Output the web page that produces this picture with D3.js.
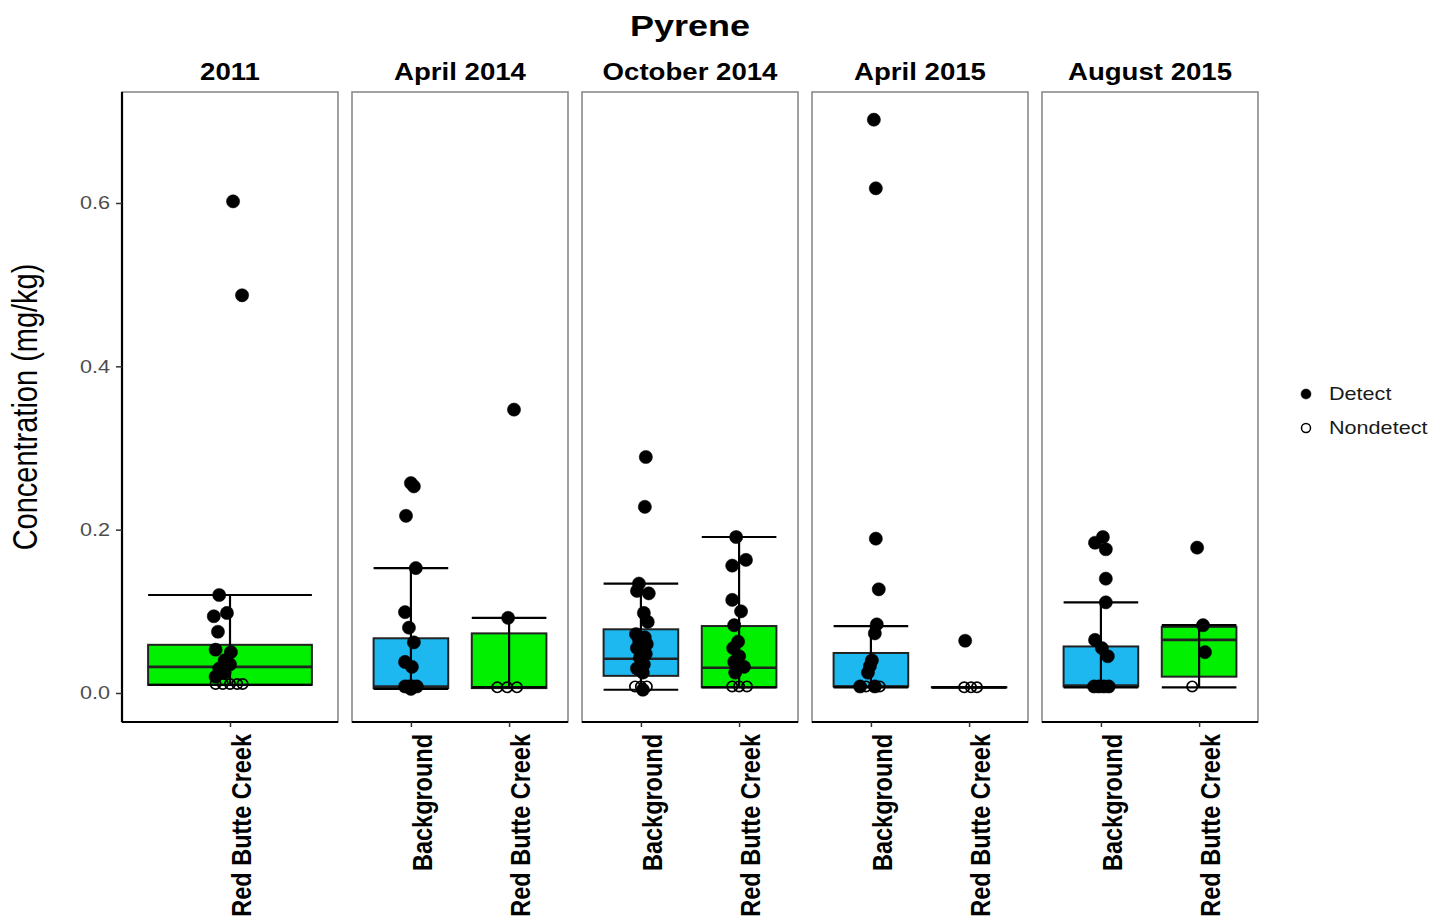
<!DOCTYPE html>
<html><head><meta charset="utf-8">
<script src="https://cdnjs.cloudflare.com/ajax/libs/d3/7.8.5/d3.min.js"></script>
<style>body{margin:0;background:#fff}svg{display:block;font-family:"Liberation Sans",Arial,sans-serif}</style>
</head><body>
<script>
// ---------- data ----------
const title = "Pyrene";
const yLabel = "Concentration (mg/kg)";
const facets = ["2011", "April 2014", "October 2014", "April 2015", "August 2015"];
const facetSites = [["Red Butte Creek"], ["Background", "Red Butte Creek"], ["Background", "Red Butte Creek"], ["Background", "Red Butte Creek"], ["Background", "Red Butte Creek"]];
const yTicks = [0, 0.2, 0.4, 0.6];
const legendLabels = ["Detect", "Nondetect"];

// box statistics (one entry per facet/site group)
const boxFacet  = ["2011", "April 2014", "April 2014", "October 2014", "October 2014", "April 2015", "April 2015", "August 2015", "August 2015"];
const boxSite   = ["Red Butte Creek", "Background", "Red Butte Creek", "Background", "Red Butte Creek", "Background", "Red Butte Creek", "Background", "Red Butte Creek"];
const boxLow    = [0.010, 0.005, 0.007, 0.004, 0.007, 0.007, 0.007, 0.007, 0.007];
const boxQ1     = [0.010, 0.006, 0.006, 0.021, 0.007, 0.008, 0.007, 0.008, 0.020];
const boxMedian = [0.032, 0.008, 0.007, 0.042, 0.031, 0.008, 0.007, 0.009, 0.065];
const boxQ3     = [0.059, 0.067, 0.073, 0.078, 0.082, 0.049, 0.007, 0.057, 0.081];
const boxHigh   = [0.120, 0.153, 0.092, 0.134, 0.191, 0.082, 0.007, 0.111, 0.083];

// points: [value, detect (1) / nondetect (0), jitter in category units]
const pts2011RBC = [[0.602,1,0.017],[0.487,1,0.067],[0.120,1,-0.06],[0.098,1,-0.017],[0.094,1,-0.09],[0.075,1,-0.067],[0.053,1,-0.08],[0.050,1,0.005],[0.040,1,-0.03],[0.035,1,0.0],[0.030,1,-0.06],[0.025,1,-0.03],[0.020,1,-0.08],
  [0.011,0,-0.08],[0.011,0,-0.04],[0.011,0,0.0],[0.011,0,0.04],[0.011,0,0.07]];
const ptsApr14Bg = [[0.257,1,0.0],[0.253,1,0.03],[0.217,1,-0.05],[0.153,1,0.05],[0.099,1,-0.06],[0.080,1,-0.02],[0.062,1,0.03],[0.038,1,-0.06],[0.032,1,0.01],
  [0.008,1,-0.06],[0.008,1,-0.02],[0.008,1,0.02],[0.008,1,0.06],[0.005,1,0.0]];
const ptsApr14RBC = [[0.347,1,0.05],[0.092,1,-0.01],[0.007,0,-0.12],[0.007,0,-0.02],[0.007,0,0.08]];
const ptsOct14Bg = [[0.289,1,0.05],[0.228,1,0.04],[0.134,1,-0.02],[0.125,1,-0.04],[0.122,1,0.08],[0.098,1,0.03],[0.087,1,0.07],[0.072,1,-0.05],[0.068,1,0.04],[0.065,1,-0.02],[0.060,1,0.06],[0.055,1,-0.04],[0.048,1,0.05],[0.043,1,-0.01],[0.035,1,0.03],[0.030,1,-0.04],[0.025,1,0.02],
  [0.008,0,-0.06],[0.008,0,0.0],[0.008,0,0.06],[0.004,1,0.02]];
const ptsOct14RBC = [[0.191,1,-0.03],[0.163,1,0.07],[0.156,1,-0.07],[0.114,1,-0.07],[0.100,1,0.02],[0.083,1,-0.05],[0.063,1,-0.01],[0.055,1,-0.06],[0.045,1,0.0],[0.038,1,-0.05],[0.032,1,0.05],[0.025,1,-0.04],
  [0.008,0,-0.07],[0.008,0,0.0],[0.008,0,0.08]];
const ptsApr15Bg = [[0.702,1,0.03],[0.618,1,0.05],[0.189,1,0.05],[0.127,1,0.08],[0.084,1,0.06],[0.073,1,0.04],[0.040,1,0.01],[0.033,1,-0.01],[0.025,1,-0.03],
  [0.008,1,-0.11],[0.008,1,0.04],[0.008,0,-0.05],[0.008,0,0.09]];
const ptsApr15RBC = [[0.064,1,-0.04],[0.007,0,-0.05],[0.007,0,0.02],[0.007,0,0.08]];
const ptsAug15Bg = [[0.191,1,0.02],[0.184,1,-0.06],[0.176,1,0.05],[0.140,1,0.05],[0.111,1,0.05],[0.065,1,-0.06],[0.055,1,0.01],[0.045,1,0.07],
  [0.008,1,-0.07],[0.008,1,-0.02],[0.008,1,0.03],[0.008,1,0.08]];
const ptsAug15RBC = [[0.178,1,-0.02],[0.083,1,0.04],[0.050,1,0.06],[0.008,0,-0.07]];
const pointSets = [pts2011RBC, ptsApr14Bg, ptsApr14RBC, ptsOct14Bg, ptsOct14RBC, ptsApr15Bg, ptsApr15RBC, ptsAug15Bg, ptsAug15RBC];

const siteColor = {"Background": "#1db8f0", "Red Butte Creek": "#00f000"};

// ---------- layout ----------
const W = 1435, H = 922;
const plotLeft = 122, plotRight = 1258, panelTop = 92, panelBottom = 722;
const SX = 1.2; // horizontal text stretch of the original image

const svg = d3.select("body").append("svg").attr("width", W).attr("height", H);
svg.append("rect").attr("width", W).attr("height", H).attr("fill", "#fff");

const fx = d3.scaleBand().domain(facets).range([plotLeft, plotRight]).paddingInner(14 / 230).paddingOuter(0);
const y = d3.scaleLinear().domain([0, 0.6]).range([693, 203]);

function stretchedText(g, x, yy, rot) {
  const t = g.append("g").attr("transform", `translate(${x},${yy}) scale(${SX},1)` + (rot ? ` rotate(${rot})` : ""));
  return t.append("text");
}

// title
stretchedText(svg, 690, 36, 0).attr("text-anchor", "middle").attr("font-size", 30).attr("font-weight", "bold").attr("fill", "#000").text(title);
// y label
stretchedText(svg, 37, 407, -90).attr("text-anchor", "middle").attr("font-size", 29).attr("fill", "#000").text(yLabel);

facets.forEach((f, fi) => {
  const x0 = fx(f), bw = fx.bandwidth();
  const sites = facetSites[fi];
  const xs = d3.scalePoint().domain(sites).range([x0, x0 + bw]).padding(0.6);
  const boxW = xs.step() * (sites.length === 1 ? 0.91 : 0.76);
  const g = svg.append("g");

  // panel background + border
  g.append("rect").attr("x", x0).attr("y", panelTop).attr("width", bw).attr("height", panelBottom - panelTop)
    .attr("fill", "#fff").attr("stroke", "#8a8a8a").attr("stroke-width", 1.6);

  // strip label
  stretchedText(svg, x0 + bw / 2, 80, 0).attr("text-anchor", "middle").attr("font-size", 23).attr("font-weight", "bold").attr("fill", "#000").text(f);

  // bottom axis
  const xAxis = d3.axisBottom(xs).tickSize(5).tickFormat("");
  const ax = g.append("g").attr("transform", `translate(0,${panelBottom})`).call(xAxis);
  ax.select(".domain").attr("stroke", "#000").attr("stroke-width", 2.2).attr("d", `M${x0},0H${x0 + bw}`);
  ax.selectAll(".tick line").attr("stroke", "#333").attr("stroke-width", 1.5);

  sites.forEach(s => {
    stretchedText(svg, xs(s) + 21, 734, -90).attr("text-anchor", "end").attr("font-size", 23.5).attr("font-weight", "bold").attr("fill", "#000").text(s);
  });

  // boxes
  boxFacet.forEach((bf, bi) => {
    if (bf !== f) return;
    const cx = xs(boxSite[bi]);
    const bg = g.append("g");
    bg.append("rect").attr("x", cx - boxW / 2).attr("y", y(boxQ3[bi])).attr("width", boxW)
      .attr("height", Math.max(0.01, y(boxQ1[bi]) - y(boxQ3[bi])))
      .attr("fill", siteColor[boxSite[bi]]).attr("stroke", "#222").attr("stroke-width", 2);
    bg.append("line").attr("x1", cx - boxW / 2).attr("x2", cx + boxW / 2).attr("y1", y(boxMedian[bi])).attr("y2", y(boxMedian[bi]))
      .attr("stroke", "#222").attr("stroke-width", 2.6);
    // error bar
    bg.append("line").attr("x1", cx).attr("x2", cx).attr("y1", y(boxLow[bi])).attr("y2", y(boxHigh[bi])).attr("stroke", "#000").attr("stroke-width", 2.2);
    [boxLow[bi], boxHigh[bi]].forEach(v => {
      bg.append("line").attr("x1", cx - boxW / 2).attr("x2", cx + boxW / 2).attr("y1", y(v)).attr("y2", y(v)).attr("stroke", "#000").attr("stroke-width", 2.2);
    });
    // points
    const pts = pointSets[bi];
    bg.selectAll("circle.pt").data(pts).join("circle").attr("class", "pt")
      .attr("cx", d => cx + d[2] * xs.step()).attr("cy", d => y(d[0]))
      .attr("r", d => d[1] ? 6.6 : 5.2)
      .attr("fill", d => d[1] ? "#000" : "none")
      .attr("stroke", "#000").attr("stroke-width", d => d[1] ? 0.5 : 1.7);
  });

  // left axis (first panel only)
  if (fi === 0) {
    const yAxis = d3.axisLeft(y).tickValues(yTicks).tickSize(6).tickFormat("");
    const ay = svg.append("g").attr("transform", `translate(${x0},0)`).call(yAxis);
    ay.select(".domain").attr("stroke", "#000").attr("stroke-width", 2.2).attr("d", `M0,${panelTop}V${panelBottom}`);
    ay.selectAll(".tick line").attr("stroke", "#333").attr("stroke-width", 1.5);
    yTicks.forEach(t => {
      stretchedText(svg, 110, y(t), 0).attr("text-anchor", "end").attr("dy", "0.36em").attr("font-size", 18).attr("fill", "#4d4d4d").text(d3.format(".1f")(t));
    });
  }
});

// legend
const lg = svg.append("g");
legendLabels.forEach((l, i) => {
  const ly = 394 + i * 34;
  lg.append("circle").attr("cx", 1306).attr("cy", ly).attr("r", i === 0 ? 5 : 4.5)
    .attr("fill", i === 0 ? "#000" : "none").attr("stroke", "#000").attr("stroke-width", i === 0 ? 0.5 : 1.5);
  stretchedText(lg, 1329, ly, 0).attr("dy", "0.36em").attr("font-size", 18).attr("fill", "#1a1a1a").text(l);
});
</script>
</body></html>
